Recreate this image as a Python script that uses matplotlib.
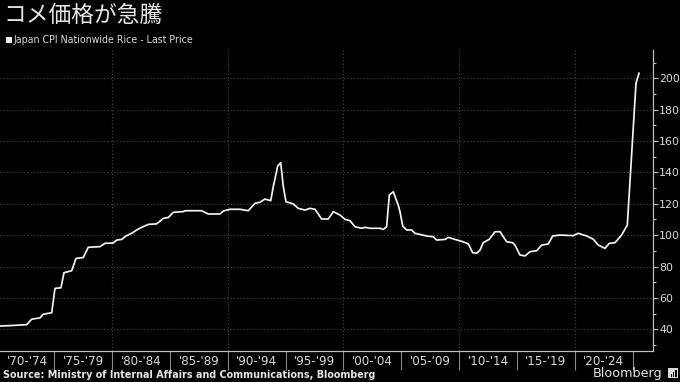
import matplotlib
matplotlib.use("Agg")
import matplotlib.pyplot as plt
from matplotlib.patches import Rectangle
import numpy as np

# ---- data ----
years = [1970.00, 1970.32, 1971.50, 1972.63, 1973.06, 1973.78, 1974.04, 1974.79, 1975.07, 1975.59,
         1975.85, 1976.52, 1976.89, 1977.52, 1977.95, 1978.96, 1979.39, 1980.09, 1980.41, 1980.84,
         1981.21, 1981.70, 1982.13, 1982.57, 1983.14, 1983.86, 1984.43, 1984.87, 1985.30, 1986.16,
         1986.31, 1987.75, 1988.32, 1989.33, 1989.62, 1990.20, 1991.06, 1991.78, 1992.36, 1992.79,
         1993.22, 1993.72, 1993.94, 1994.32, 1994.58, 1994.81, 1995.04, 1995.67, 1996.10, 1996.68,
         1997.11, 1997.55, 1998.12, 1998.69, 1999.13, 1999.71, 2000.14, 2000.57, 2001.00, 2001.58,
         2001.87, 2002.30, 2003.16, 2003.45, 2003.74, 2003.97, 2004.31, 2004.74, 2004.89, 2005.13,
         2005.47, 2005.90, 2006.19, 2007.20, 2007.77, 2008.06, 2008.78, 2009.07, 2009.65, 2010.36,
         2010.80, 2011.17, 2011.52, 2011.81, 2012.09, 2012.61, 2013.10, 2013.54, 2014.11, 2014.63,
         2014.83, 2015.26, 2015.70, 2016.13, 2016.71, 2017.14, 2017.71, 2018.09, 2018.72, 2019.87,
         2020.30, 2021.03, 2021.60, 2022.03, 2022.61, 2022.98, 2023.47, 2024.05, 2024.54, 2025.29,
         2025.55]
values = [42.1, 42.1, 42.5, 43.0, 46.5, 47.3, 49.6, 50.6, 66.1, 66.5,
          76.1, 77.4, 85.2, 85.8, 92.3, 92.7, 94.8, 95.0, 96.9, 97.3,
          99.5, 101.2, 103.3, 105.0, 106.9, 107.2, 110.7, 111.3, 114.6, 115.0,
          115.6, 115.6, 113.5, 113.5, 115.4, 116.5, 116.5, 115.6, 120.3, 121.0,
          123.0, 122.0, 130.9, 144.0, 146.2, 130.9, 121.3, 119.9, 117.1, 116.0,
          117.1, 116.5, 110.3, 110.3, 115.0, 112.8, 110.1, 109.2, 105.4, 104.4,
          105.0, 104.4, 104.4, 103.7, 105.4, 125.6, 127.7, 119.2, 115.0, 105.8,
          103.3, 103.3, 101.2, 99.5, 99.0, 96.9, 97.3, 98.6, 97.3, 95.8,
          94.4, 88.9, 88.5, 90.5, 95.2, 97.4, 102.2, 102.2, 95.8, 95.2,
          93.7, 87.4, 86.8, 89.5, 90.1, 93.7, 94.4, 99.5, 100.1, 99.7,
          101.2, 99.5, 97.4, 93.7, 91.6, 94.8, 95.2, 100.1, 106.5, 196.8,
          203.2]

period_labels = ["'70-'74", "'75-'79", "'80-'84", "'85-'89", "'90-'94", "'95-'99",
                 "'00-'04", "'05-'09", "'10-'14", "'15-'19", "'20-'24"]
period_starts = [1970, 1975, 1980, 1985, 1990, 1995, 2000, 2005, 2010, 2015, 2020]
y_ticks = [40, 60, 80, 100, 120, 140, 160, 180, 200]

title = "コメ価格が急騰"
legend_label = "Japan CPI Nationwide Rice - Last Price"
source = "Source: Ministry of Internal Affairs and Communications, Bloomberg"

# ---- figure ----
W, H = 680, 382
fig = plt.figure(figsize=(W / 100, H / 100), dpi=100, facecolor="black")
ax = fig.add_axes([0 / W, 1 - 350.7 / H, 653 / W, (350.7 - 50) / H], facecolor="black")

xmin, xmax = 1970.32, 2026.76
ax.set_xlim(xmin, xmax)
ax.set_ylim(26.4, 218)

grid_c = "#4a4a4a"
for yv in y_ticks:
    ax.axhline(yv, color=grid_c, lw=0.8, ls=(0, (1, 2)), zorder=1)
for xv in [1980, 1990, 2000, 2010, 2020]:
    ax.axvline(xv, color=grid_c, lw=0.8, ls=(0, (1, 2)), zorder=1)

ax.plot(years, values, color="#f2f2f2", lw=1.25, zorder=3, solid_joinstyle="round")

# spines
for s in ["left", "top"]:
    ax.spines[s].set_visible(False)
ax.spines["right"].set_color("#bdbdbd")
ax.spines["bottom"].set_color("#bdbdbd")
ax.spines["right"].set_linewidth(0.9)
ax.spines["bottom"].set_linewidth(0.9)

# y axis on right
ax.yaxis.tick_right()
ax.set_yticks(y_ticks)
ax.set_yticks(np.arange(30, 220, 10), minor=True)
ax.tick_params(axis="y", which="major", length=3.5, width=0.8, color="#bdbdbd",
               labelcolor="#d9d9d9", labelsize=7.9, pad=1.0)
ax.tick_params(axis="y", which="minor", length=2.2, width=0.8, color="#bdbdbd")

# x axis: separators as major ticks, labels as minor ticks
sep = [y for y in period_starts[1:]] + [2025]
ax.set_xticks(sep)
ax.set_xticklabels([""] * len(sep))
centers = []
for i, st in enumerate(period_starts):
    lo = max(st, xmin)
    centers.append((lo + st + 5) / 2)
ax.set_xticks(centers, minor=True)
ax.set_xticklabels(period_labels, minor=True)
ax.tick_params(axis="x", which="major", length=14, width=0.8, color="#8a8a8a", direction="out")
ax.tick_params(axis="x", which="minor", length=0, labelcolor="#d9d9d9", labelsize=8.6, pad=3)

# title & legend
fig.text(3 / W, 1 - 15.5 / H, title, fontsize=16.4, color="#e6e6e6",
         family=["Noto Sans CJK JP", "DejaVu Sans"], va="center", ha="left")
fig.patches.append(Rectangle((5.7 / W, 1 - 42.7 / H), 6 / W, 6 / H,
                             transform=fig.transFigure, facecolor="#f2f2f2", edgecolor="none"))
fig.text(14 / W, 1 - 40 / H, legend_label, fontsize=6.85, color="#d9d9d9",
         va="center", ha="left")

# footer
fig.text(3 / W, 1 - 374.5 / H, source, fontsize=6.95, color="#e6e6e6", fontweight="bold",
         va="center", ha="left")
fig.text(662 / W, 1 - 373 / H, "Bloomberg", fontsize=9.2, color="#e6e6e6",
         va="center", ha="right")
# small logo
fig.patches.append(Rectangle((668 / W, 1 - 378 / H), 10 / W, 10 / H,
                             transform=fig.transFigure, facecolor="#d9d9d9", edgecolor="none"))
for bx, bh in [(670.5, 3), (672.8, 5), (675.1, 7)]:
    fig.patches.append(Rectangle((bx / W, 1 - 376.5 / H), 1.4 / W, bh / H,
                                 transform=fig.transFigure, facecolor="black", edgecolor="none"))

fig.savefig("out.png", dpi=100, facecolor="black")
